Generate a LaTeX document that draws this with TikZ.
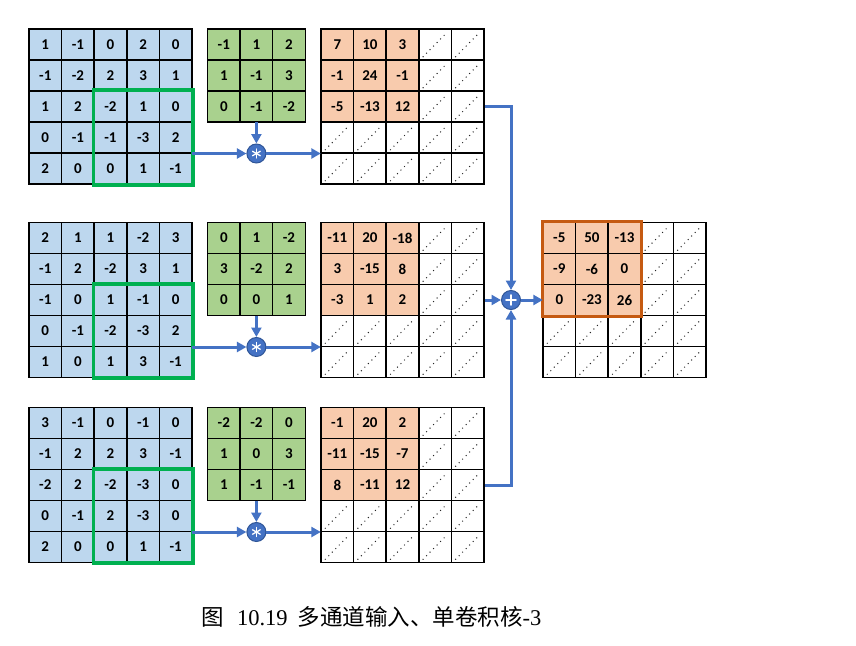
\documentclass[tikz,border=0pt]{standalone}
\usepackage{fontspec}
\setmainfont{Liberation Serif}
\newfontfamily\cellfont{Carlito}
\newfontfamily\cjk{Noto Sans CJK SC}
\usetikzlibrary{arrows.meta,calc}
\definecolor{inblue}{HTML}{BDD7EE}
\definecolor{kgreen}{HTML}{A9D18E}
\definecolor{oorange}{HTML}{F8CBAD}
\definecolor{frgreen}{HTML}{00B050}
\definecolor{frorange}{HTML}{C55A11}
\definecolor{arrblue}{HTML}{4472C4}
\definecolor{circedge}{HTML}{2F5597}
\newcommand\mygrid[5]{%
  \foreach \rw [count=\r from 0] in {#5} {
    \foreach \v [count=\c from 0] in \rw {
      \node[#4] (#3-\r-\c) at ({#1+(\c+0.5)*32.6},{#2+(\r+0.5)*31}) {\v};
    }
  }%
}
\newcommand\emptygrid[3]{%
  \foreach \r in {0,...,4} {
    \foreach \c in {0,...,4} {
      \node[ecell] (#3-\r-\c) at ({#1+(\c+0.5)*32.6},{#2+(\r+0.5)*31}) {};
      \draw[dotline] ([shift={(5pt,4pt)}]#3-\r-\c.south west) -- ([shift={(-5pt,-4pt)}]#3-\r-\c.north east);
    }
  }%
}
\begin{document}
\begin{tikzpicture}[x=1pt,y=-1pt,
  cell/.style={draw=black, line width=1.5pt, minimum width=32.6pt, minimum height=31pt, inner sep=0pt, font=\cellfont\bfseries\fontsize{15}{15}\selectfont},
  incell/.style={cell, fill=inblue},
  kcell/.style={cell, fill=kgreen},
  ocell/.style={cell, fill=oorange},
  ecell/.style={cell, fill=white},
  dotline/.style={line width=1.4pt, line cap=round, dash pattern=on 0pt off 5pt, black!85},
  gridbox/.style={draw=none, minimum width=163pt, minimum height=155pt, inner sep=0pt},
  kbox/.style={draw=none, minimum width=97.8pt, minimum height=93pt, inner sep=0pt},
  opcirc/.style={circle, fill=arrblue, draw=circedge, line width=1pt, minimum size=19pt, inner sep=0pt},
  arr/.style={draw=arrblue, line width=3pt, -{Triangle[length=9.5pt,width=10pt]}},
  sym/.style={draw=white, line width=1.3pt, line cap=round},
  gframe/.style={draw=frgreen, line width=3.8pt},
  oframe/.style={draw=frorange, line width=3pt}
]
\useasboundingbox (0,0) rectangle (856,645);
\fill[white] (0,0) rectangle (856,645);

% ---------- row 1 ----------
\mygrid{29}{29}{a1}{incell}{{1,-1,0,2,0},{-1,-2,2,3,1},{1,2,-2,1,0},{0,-1,-1,-3,2},{2,0,0,1,-1}}
\mygrid{207.5}{29}{k1}{kcell}{{-1,1,2},{1,-1,3},{0,-1,-2}}
\emptygrid{321}{29}{e1}
\mygrid{321}{29}{o1}{ocell}{{7,10,3},{-1,24,-1},{-5,-13,12}}
\node[gridbox] (A1) at (110.5,106.5) {};
\node[kbox] (K1) at (256.4,75.5) {};
\node[gridbox] (O1) at (402.5,106.5) {};
\draw[gframe] (a1-2-2.north west) rectangle (a1-4-4.south east);
\node[opcirc] (S1) at (256.4,153.5) {};

% ---------- row 2 ----------
\mygrid{29}{222.5}{a2}{incell}{{2,1,1,-2,3},{-1,2,-2,3,1},{-1,0,1,-1,0},{0,-1,-2,-3,2},{1,0,1,3,-1}}
\mygrid{207.5}{222.5}{k2}{kcell}{{0,1,-2},{3,-2,2},{0,0,1}}
\emptygrid{321}{222.5}{e2}
\mygrid{321}{222.5}{o2}{ocell}{{-11,20,-18},{3,-15,8},{-3,1,2}}
\node[gridbox] (A2) at (110.5,300) {};
\node[kbox] (K2) at (256.4,269) {};
\node[gridbox] (O2) at (402.5,300) {};
\draw[gframe] (a2-2-2.north west) rectangle (a2-4-4.south east);
\node[opcirc] (S2) at (256.4,347) {};

% ---------- row 3 ----------
\mygrid{29}{407.5}{a3}{incell}{{3,-1,0,-1,0},{-1,2,2,3,-1},{-2,2,-2,-3,0},{0,-1,2,-3,0},{2,0,0,1,-1}}
\mygrid{207.5}{407.5}{k3}{kcell}{{-2,-2,0},{1,0,3},{1,-1,-1}}
\emptygrid{321}{407.5}{e3}
\mygrid{321}{407.5}{o3}{ocell}{{-1,20,2},{-11,-15,-7},{8,-11,12}}
\node[gridbox] (A3) at (110.5,485) {};
\node[kbox] (K3) at (256.4,454) {};
\node[gridbox] (O3) at (402.5,485) {};
\draw[gframe] (a3-2-2.north west) rectangle (a3-4-4.south east);
\node[opcirc] (S3) at (256.4,532) {};

% ---------- result ----------
\emptygrid{543}{222.5}{ef}
\mygrid{543}{222.5}{f}{ocell}{{-5,50,-13},{-9,-6,0},{0,-23,26}}
\draw[oframe] (f-0-0.north west) rectangle (f-2-2.south east);
\node[gridbox] (F) at (624.5,300) {};
\node[opcirc] (P) at (511,300) {};

% ---------- connectors ----------
\foreach \i in {1,2,3} {
  \draw[arr] (A\i.east |- S\i) -- (S\i.west);
  \draw[arr] (K\i.south) -- (S\i.north);
  \draw[arr] (S\i.east) -- (O\i.west |- S\i);
  \draw[sym] ($(S\i)+(0,-4.5)$) -- ($(S\i)+(0,4.5)$);
  \draw[sym] ($(S\i)+(-3.9,-2.25)$) -- ($(S\i)+(3.9,2.25)$);
  \draw[sym] ($(S\i)+(-3.9,2.25)$) -- ($(S\i)+(3.9,-2.25)$);
}
\draw[arr] (e1-2-4.east) -| (P.north);
\draw[arr] (e3-2-4.east) -| (P.south);
\draw[arr] (e2-2-4.east) -- (P.west);
\draw[arr] (P.east) -- (F.west |- P);
\draw[sym, line width=1.8pt] ($(P)+(-5,0)$) -- ($(P)+(5,0)$);
\draw[sym, line width=1.8pt] ($(P)+(0,-5)$) -- ($(P)+(0,5)$);

% ---------- caption ----------
\node[font=\fontsize{22.5}{22.5}\selectfont] (cap) at (371.5,617)
  {{\cjk 图}\hspace{13pt}10.19\hspace{10pt}{\cjk 多通道输入、单卷积核}-3};
\end{tikzpicture}
\end{document}
